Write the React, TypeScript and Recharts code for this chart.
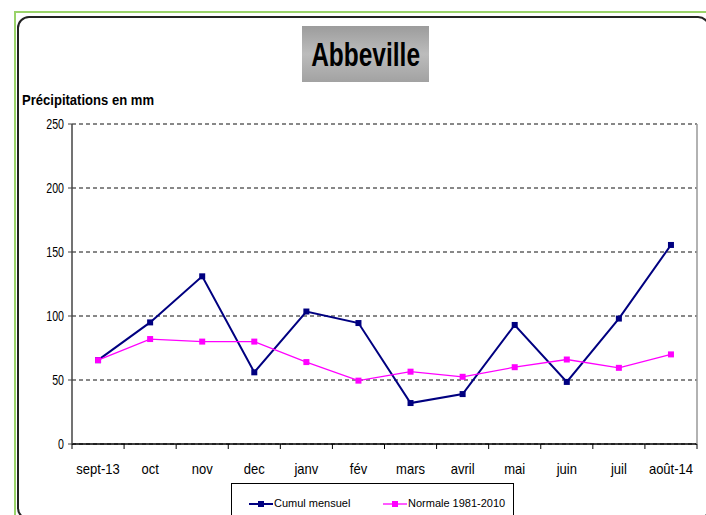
import React from "react";
import { CartesianGrid, Line, LineChart, XAxis, YAxis } from "recharts";

const months = ["sept-13", "oct", "nov", "dec", "janv", "fév", "mars", "avril", "mai", "juin", "juil", "août-14"];
const cumulMensuel = [65.5, 95, 131, 56, 103.5, 94.5, 32, 39, 93, 48.5, 98, 155.5];
const normale = [65.5, 82, 80, 80, 64, 49.5, 56.5, 52.5, 60, 66, 59.5, 70];
const yTicks = [0, 50, 100, 150, 200, 250];

const data = months.map((m, i) => ({ month: m, cumul: cumulMensuel[i], normale: normale[i] }));

const FONT = "'Liberation Sans', Arial, sans-serif";
const BLUE = "#000080";
const PINK = "#ff00ff";

// plot box
const LEFT = 72;
const RIGHT = 697;
const TOP = 124;
const BOTTOM = 444;
const bandHalf = (RIGHT - LEFT) / months.length / 2;

const MonthTick = ({ x, payload, index }) => (
  <g>
    <line x1={x - bandHalf} x2={x - bandHalf} y1={BOTTOM} y2={BOTTOM + 5} stroke="#000" />
    {index === months.length - 1 && (
      <line x1={x + bandHalf} x2={x + bandHalf} y1={BOTTOM} y2={BOTTOM + 5} stroke="#000" />
    )}
    <g transform={`translate(${x},${BOTTOM + 30})`}>
      <text transform="scale(0.93,1)" textAnchor="middle" fontSize={14} fontFamily={FONT} fill="#000">
        {payload.value}
      </text>
    </g>
  </g>
);

const ValueTick = ({ x, y, payload }) => (
  <g transform={`translate(${x},${y})`}>
    <text transform="scale(0.76,1)" textAnchor="end" dy={5} fontSize={14} fontFamily={FONT} fill="#000">
      {payload.value}
    </text>
  </g>
);

const squareDot = (color) => (p) =>
  <rect key={`d-${p.index}`} x={p.cx - 3} y={p.cy - 3} width={6} height={6} fill={color} />;

const LegendIcon = ({ color, width }) => (
  <svg width={24} height={8} style={{ display: "block" }}>
    <line x1={0} x2={24} y1={4} y2={4} stroke={color} strokeWidth={width} />
    <rect x={9} y={1} width={6} height={6} fill={color} />
  </svg>
);

export default function App() {
  return (
    <div style={{ position: "absolute", left: 0, top: 0, width: 706, height: 515, overflow: "hidden", background: "#fff", fontFamily: FONT }}>
      <div style={{ position: "absolute", left: 14, top: 11, width: 760, height: 560, border: "2px solid #9ad36a" }} />
      <div style={{ position: "absolute", left: 17, top: 16, width: 689, height: 500, border: "2px solid #222", borderRadius: 12 }} />

      <div
        style={{
          position: "absolute",
          left: 302,
          top: 26,
          width: 127,
          height: 56,
          background: "linear-gradient(to bottom, #9c9c9c 0%, #bcbcbc 50%, #a2a2a2 100%)",
          display: "flex",
          alignItems: "center",
          justifyContent: "center",
        }}
      >
        <span style={{ fontSize: 34, fontWeight: "bold", lineHeight: 1, transform: "scaleX(0.72)", color: "#000" }}>Abbeville</span>
      </div>

      <div style={{ position: "absolute", left: 22, top: 91, fontSize: 15, fontWeight: "bold", lineHeight: "18px", transform: "scaleX(0.87)", transformOrigin: "left" }}>
        Précipitations en mm
      </div>

      <div style={{ position: "absolute", left: 0, top: 0 }}>
        <LineChart width={706} height={515} data={data} margin={{ top: TOP, right: 0, bottom: 0, left: 0 }}>
          <CartesianGrid vertical={false} stroke="#111" strokeDasharray="4 3" />
          <XAxis
            dataKey="month"
            scale="band"
            interval={0}
            height={515 - BOTTOM}
            tickLine={false}
            axisLine={{ stroke: "#000", strokeWidth: 1.5 }}
            tick={MonthTick}
          />
          <YAxis
            domain={[0, 250]}
            ticks={yTicks}
            width={LEFT}
            tickSize={4}
            tickMargin={4}
            axisLine={{ stroke: "#444", strokeWidth: 1.5 }}
            tickLine={{ stroke: "#444" }}
            tick={ValueTick}
          />
          <YAxis
            yAxisId="frame"
            orientation="right"
            domain={[0, 250]}
            width={706 - RIGHT}
            tick={false}
            tickLine={false}
            axisLine={{ stroke: "#999", strokeWidth: 1.5 }}
          />
          <Line
            dataKey="cumul"
            stroke={BLUE}
            strokeWidth={2}
            dot={squareDot(BLUE)}
            activeDot={false}
            isAnimationActive={false}
          />
          <Line
            dataKey="normale"
            stroke={PINK}
            strokeWidth={1.3}
            dot={squareDot(PINK)}
            activeDot={false}
            isAnimationActive={false}
          />
        </LineChart>
      </div>

      <div style={{ position: "absolute", left: 231, top: 483, width: 281, height: 40, border: "1px solid #000", background: "#fff" }}>
        <div style={{ position: "absolute", left: 17, top: 14, display: "flex", alignItems: "center", fontSize: 11, lineHeight: "11px" }}>
          <LegendIcon color={BLUE} width={2} />
          <span style={{ marginLeft: 1 }}>Cumul mensuel</span>
        </div>
        <div style={{ position: "absolute", left: 151, top: 14, display: "flex", alignItems: "center", fontSize: 11, lineHeight: "11px" }}>
          <LegendIcon color={PINK} width={1.3} />
          <span style={{ marginLeft: 1 }}>Normale 1981-2010</span>
        </div>
      </div>
    </div>
  );
}
